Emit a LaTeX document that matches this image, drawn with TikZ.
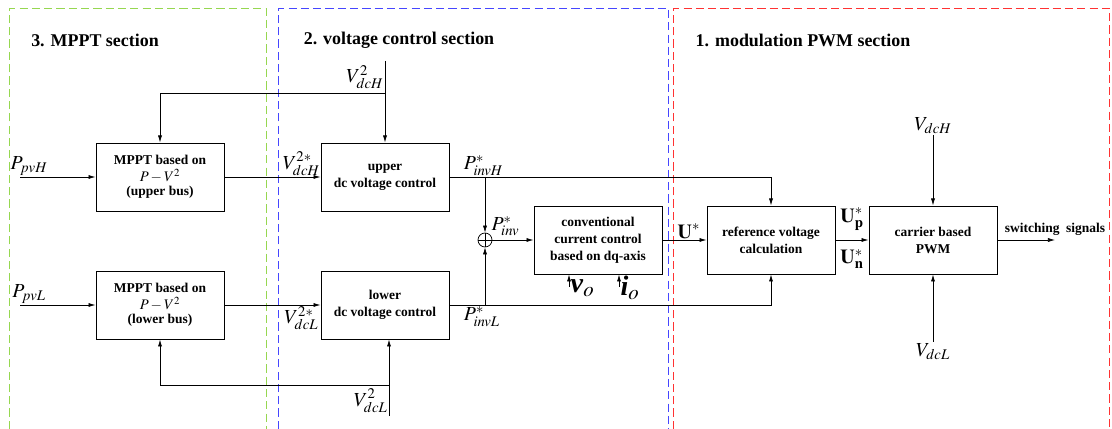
\documentclass[tikz,border=0pt]{standalone}
\usepackage{mathptmx}
\usepackage[no-math]{fontspec}
\setmainfont{Liberation Serif}
\usepackage{tikz}
\usetikzlibrary{arrows.meta}
\definecolor{secgreen}{RGB}{150,215,80}
\definecolor{secblue}{RGB}{70,70,255}
\definecolor{secred}{RGB}{255,50,50}

\begin{document}
\begin{tikzpicture}[>={Latex[length=6pt,width=3.5pt]}, x=0.03cm, y=-0.03cm, line width=0.6pt,
  blk/.style={draw, line width=0.8pt, minimum width=3.84cm, minimum height=2.04cm, inner sep=0pt,
    align=center, font=\bfseries\fontsize{11.5}{14.5}\selectfont},
  ttl/.style={font=\bfseries\fontsize{15.3}{18}\selectfont},
  sig/.style={font=\fontsize{17}{19}\selectfont, inner sep=1pt},
  big/.style={font=\fontsize{24}{26}\selectfont, inner sep=1pt},
  sec/.style={dash pattern=on 7pt off 3.5pt, line width=0.85pt}]
\useasboundingbox (0,0) rectangle (1112,429);

% sections
\draw[sec, draw=secgreen] (9.5,429) -- (9.5,8.5) -- (266.5,8.5) -- (266.5,429);
\draw[sec, draw=secblue] (278.5,429) -- (278.5,8.5) -- (668.5,8.5) -- (668.5,429);
\draw[sec, draw=secred] (673.5,429) -- (673.5,8.5) -- (1109.5,8.5) -- (1109.5,429);
\node[ttl] (t3) at (95,40) {3. MPPT section};
\node[ttl] (t2) at (399,40) {2. voltage control section};
\node[ttl] (t1) at (803,40) {1. modulation PWM section};

% blocks
\node[blk] (mpH) at (160,177) {MPPT based on\\ {\mdseries\fontsize{12.5}{13}\selectfont $P-V^2$}\\[-2.5pt] (upper bus)};
\node[blk] (mpL) at (160,305) {MPPT based on\\ {\mdseries\fontsize{12.5}{13}\selectfont $P-V^2$}\\[-2.5pt] (lower bus)};
\node[blk] (vcH) at (385,177) {upper\\ dc voltage control};
\node[blk] (vcL) at (385,305) {lower\\ dc voltage control};
\node[blk] (cc) at (598,240) {conventional\\ current control\\ based on dq-axis};
\node[blk] (rv) at (771,240) {reference voltage\\ calculation};
\node[blk] (pwm) at (933,240) {carrier based\\ PWM};
\node[draw, circle, minimum size=0.42cm, inner sep=0pt,
  path picture={\draw (path picture bounding box.north) -- (path picture bounding box.south)
    (path picture bounding box.west) -- (path picture bounding box.east);}] (sum) at (485,240) {};

% free ends and junctions
\coordinate (pH) at (20,177);
\coordinate (pL) at (20,305);
\coordinate (vH) at (385,61);
\coordinate (jH) at (385,93);
\coordinate (vL) at (389,416);
\coordinate (jL) at (389,385);
\coordinate (bH) at (485,177);
\coordinate (bL) at (485,305);
\coordinate (out) at (1055,240);
\coordinate (vdH) at (933,135);
\coordinate (vdL) at (933,342);
\coordinate (vo) at (569,287);
\coordinate (io) at (619,287);

% MPPT section
\draw[->] (pH) -- node[sig, above, pos=0.12] {$P_{pvH}$} (mpH);
\draw[->] (pL) -- node[sig, above, pos=0.12] {$P_{pvL}$} (mpL);
\draw[->] (mpH) -- node[sig, above, pos=0.8] {$V_{dcH}^{2*}$} (vcH);
\draw[->] (mpL) -- node[sig, below, pos=0.8] {$V_{dcL}^{2*}$} (vcL);
\draw[->] (vH) -- node[sig, left, pos=0.2] {$V_{dcH}^{2}$} (vcH);
\draw[->] (jH) -| (mpH);
\draw[->] (vL) -- node[sig, left, pos=0.2] {$V_{dcL}^{2}$} (vL |- vcL.south);
\draw[->] (jL) -| (mpL);

% voltage control section
\draw[->] (vcH) -| node[sig, above right, pos=0.02] {$P_{invH}^{*}$} (rv);
\draw[->] (vcL) -| node[sig, below right, pos=0.02] {$P_{invL}^{*}$} (rv);
\draw[->] (bH) -- (sum);
\draw[->] (bL) -- (sum);
\draw[->] (sum) -- node[sig, above right, pos=0, xshift=-2pt, yshift=2pt] {$P_{inv}^{*}$} (cc);
\draw[->] (vo) -- node[big, right, pos=0, yshift=-1pt] {$\textbf{\textit{v}}_o$} (vo |- cc.south);
\draw[->] (io) -- node[big, right, pos=0, yshift=-1pt] {$\textbf{\textit{i}}_o$} (io |- cc.south);

% modulation section
\draw[->] (cc) -- node[sig, above, pos=0.6] {$\mathbf{U}^{*}$} (rv);
\draw[->] (rv) -- node[sig, above=0.25cm] {$\mathbf{U}_{\mathbf{p}}^{*}$}
  node[sig, below=0.25cm] {$\mathbf{U}_{\mathbf{n}}^{*}$} (pwm);
\draw[->] (vdH) node[sig, above] {$V_{dcH}$} -- (pwm);
\draw[->] (vdL) node[sig, below] {$V_{dcL}$} -- (pwm);
\draw[->] (pwm) -- node[above, pos=1, font=\bfseries\fontsize{11.5}{14}\selectfont] {switching~ signals} (out);
\end{tikzpicture}
\end{document}
